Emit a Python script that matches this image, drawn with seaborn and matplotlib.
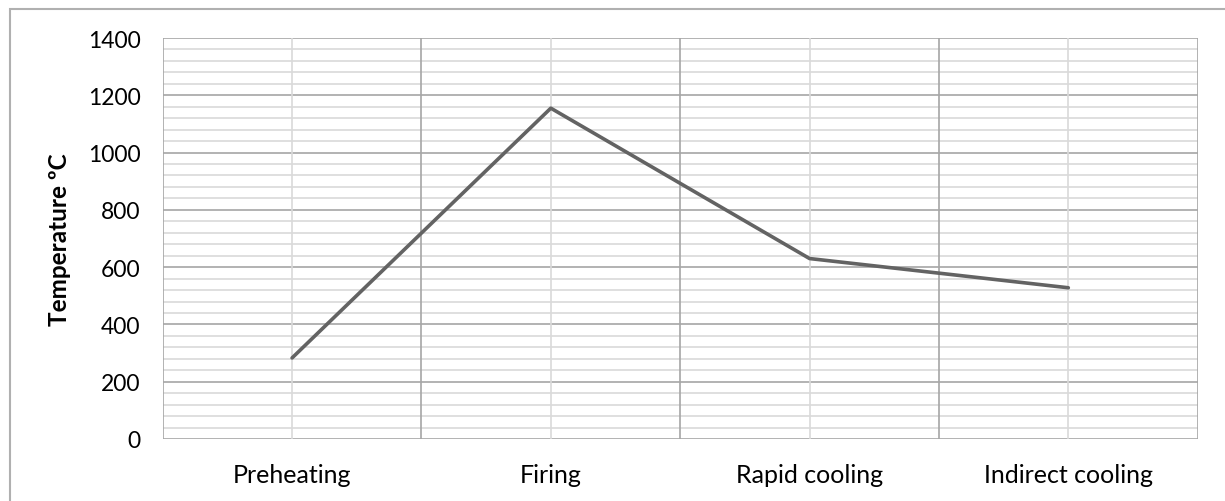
import matplotlib
matplotlib.use("Agg")
import matplotlib.pyplot as plt
import seaborn as sns
import pandas as pd
import numpy as np
from matplotlib.patches import Rectangle

categories = ["Preheating", "Firing", "Rapid cooling", "Indirect cooling"]
temperatures = [283, 1155, 630, 528]
y_ticks = [0, 200, 400, 600, 800, 1000, 1200, 1400]

sns.set_theme(style="white")
plt.rcParams['font.family'] = ['Lato', 'DejaVu Sans']

W, H = 1225, 502
fig = plt.figure(figsize=(W / 100, H / 100), dpi=100)
ax = fig.add_axes([162.7 / W, (H - 440) / H, (1197.7 - 162.7) / W, (440 - 39) / H])

# figure border
fig.patches.append(Rectangle((10 / W, -0.1), 1.2, (H - 9.5) / H + 0.1, transform=fig.transFigure,
                             fill=False, edgecolor="#b0b0b0", linewidth=1.5, zorder=0))

df = pd.DataFrame({"stage": categories, "temp": temperatures})
df["x"] = np.arange(len(categories))
sns.lineplot(data=df, x="x", y="temp", ax=ax, color="#636363", linewidth=2.6, sort=False, zorder=5)

ax.set_xlim(-0.5, len(categories) - 0.5)
ax.set_ylim(0, 1400)

# grids
for v in np.arange(40, 1400, 40):
    if v % 200 != 0:
        ax.axhline(v, color="#d9d9d9", linewidth=1.2, zorder=1)
for v in y_ticks:
    ax.axhline(v, color="#a6a6a6", linewidth=1.2, zorder=2)
for i in range(len(categories)):
    ax.axvline(i, color="#d9d9d9", linewidth=1.2, zorder=2)
for b in np.arange(-0.5, len(categories), 1.0):
    ax.axvline(b, color="#a6a6a6", linewidth=1.2, zorder=3)

ax.set_yticks(y_ticks)
ax.set_yticklabels([str(v) for v in y_ticks])
ax.set_xticks(range(len(categories)))
ax.set_xticklabels(categories)
ax.tick_params(axis="y", length=0, pad=16, labelsize=16.5, colors="black")
ax.tick_params(axis="x", length=0, pad=17, labelsize=18, colors="black")
for s in ax.spines.values():
    s.set_visible(False)

ax.set_xlabel("")
ax.set_ylabel("Temperature ºC", fontsize=17.5, fontweight="bold", color="black", labelpad=12)

fig.savefig("out.png", dpi=100)
